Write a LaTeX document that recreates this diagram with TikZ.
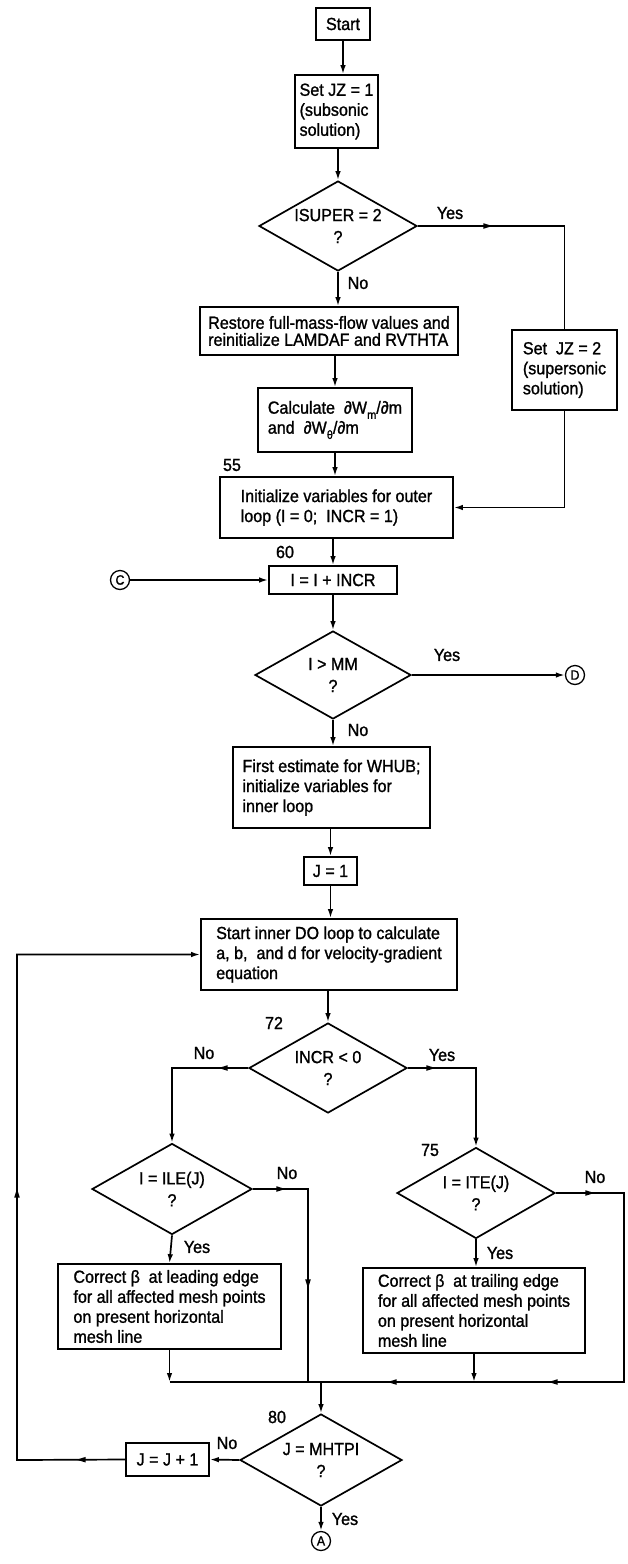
\documentclass[tikz,border=0pt]{standalone}
\usepackage{fontspec}
\setmainfont{Liberation Sans}[FakeStretch=0.92, FakeBold=1.2]
\usetikzlibrary{shapes.geometric,arrows.meta,decorations.markings}
\newcommand\ftxt{\fontsize{17.5}{20}\selectfont}
\newcommand\frest{\fontsize{17.5}{17}\selectfont}
\newcommand\fdia{\fontsize{17.5}{22}\selectfont}
\newcommand\fcirc{\fontsize{13.5}{13.5}\selectfont}
\newcommand\mysub[1]{\raisebox{-0.3em}{\fontsize{12}{12}\selectfont #1}}
\tikzset{
  box/.style={draw, line width=1.7pt, inner sep=2pt, align=left, font=\ftxt},
  dia/.style={draw, diamond, line width=1.7pt, inner sep=0pt, aspect=1.75, align=center, font=\fdia},
  con/.style={circle, draw, line width=1.3pt, minimum size=19pt, inner sep=0pt, font=\fcirc},
  lbl/.style={font=\ftxt, inner sep=0pt},
  conn/.style={line width=1.7pt},
  arr/.style={conn, -{Latex[length=9pt,width=5.5pt]}},
  midarr/.style={postaction={decorate, decoration={markings, mark=at position #1 with {\fill (-4.5pt,-2.8pt) -- (4.5pt,0pt) -- (-4.5pt,2.8pt) -- cycle;}}}}
}
\begin{document}
\begin{tikzpicture}[x=1pt,y=-1pt]
\fill[white] (0,0) rectangle (627,1564);
\useasboundingbox (0,0) rectangle (627,1564);

% nodes
\node[box, minimum width=54pt, minimum height=32pt] (start) at (343,24) {Start};
\node[box, minimum width=83pt, minimum height=73pt] (jz1) at (336.5,111.5) {Set JZ = 1\\(subsonic\\solution)};
\node[dia, minimum width=158pt, minimum height=90pt] (isuper) at (338,226) {ISUPER = 2\\?};
\node[box, minimum width=258pt, minimum height=48pt, font=\frest] (restore) at (329,331) {Restore full-mass-flow values and\\reinitialize LAMDAF and RVTHTA};
\node[box, minimum width=154pt, minimum height=64pt] (calc) at (335,420) {Calculate \ ∂W\mysub{m}/∂m\\and \ ∂W\mysub{θ}/∂m};
\node[box, minimum width=105pt, minimum height=80pt] (jz2) at (564.5,370) {Set \ JZ = 2\\(supersonic\\solution)};
\node[box, minimum width=233pt, minimum height=61pt] (init) at (336.5,507.5) {Initialize variables for outer\\loop (I = 0; \ INCR = 1)};
\node[box, minimum width=128pt, minimum height=28pt] (incr) at (333,580) {I = I + INCR};
\node[con] (C) at (120,580) {C};
\node[dia, minimum width=156pt, minimum height=88pt] (immd) at (333,675) {I > MM\\?};
\node[con] (D) at (575,675) {D};
\node[box, minimum width=197pt, minimum height=81pt] (first) at (331.5,787.5) {First estimate for WHUB;\\initialize variables for\\inner loop};
\node[box, minimum width=53pt, minimum height=28pt] (j1) at (330.5,871) {J = 1};
\node[box, minimum width=256pt, minimum height=71pt] (inner) at (329,954.5) {Start inner DO loop to calculate\\a, b, \ and d for velocity-gradient\\equation};
\node[dia, minimum width=158pt, minimum height=90pt] (incrd) at (328,1068) {INCR < 0\\?};
\node[dia, minimum width=160pt, minimum height=91pt] (ile) at (172,1189) {I = ILE(J)\\?};
\node[dia, minimum width=158pt, minimum height=91pt] (ite) at (476,1193) {I = ITE(J)\\?};
\node[box, minimum width=223pt, minimum height=85pt] (lead) at (169.5,1306.5) {Correct β\enspace at leading edge\\for all affected mesh points\\on present horizontal\\mesh line};
\node[box, minimum width=222pt, minimum height=85pt] (trail) at (474,1310.5) {Correct β\enspace at trailing edge\\for all affected mesh points\\on present horizontal\\mesh line};
\node[dia, minimum width=162pt, minimum height=92pt] (mht) at (321,1460) {J = MHTPI\\?};
\node[box, minimum width=83pt, minimum height=33pt] (jj1) at (167.5,1459.5) {J = J + 1};
\node[con] (A) at (321,1541) {A};

% labels
\node[lbl] (y1) at (450,213) {Yes};
\node[lbl] (n1) at (358,283) {No};
\node[lbl] (s55) at (232,465) {55};
\node[lbl] (s60) at (285,552) {60};
\node[lbl] (y2) at (447,655) {Yes};
\node[lbl] (n2) at (358,730) {No};
\node[lbl] (s72) at (274,1023) {72};
\node[lbl] (n3) at (204,1053) {No};
\node[lbl] (y3) at (442,1055) {Yes};
\node[lbl] (s75) at (430,1150) {75};
\node[lbl] (n4) at (287,1173) {No};
\node[lbl] (y4) at (197,1247) {Yes};
\node[lbl] (n5) at (595,1177) {No};
\node[lbl] (y5) at (500,1253) {Yes};
\node[lbl] (s80) at (277,1417) {80};
\node[lbl] (n6) at (227,1443) {No};
\node[lbl] (y6) at (345,1519) {Yes};

% coordinates
\coordinate (ilec) at (308,1189);
\coordinate (itec) at (624,1193);
\coordinate (mrg) at (321,1382);
\coordinate (lb) at (17,1460);

% connectors
\draw[arr] (start.south) -- (start.south |- jz1.north);
\draw[arr] (isuper.north |- jz1.south) -- (isuper.north);
\draw[conn, midarr=70pt] (isuper.east) -| (jz2.north);
\draw[arr] (isuper.south) -- (isuper.south |- restore.north);
\draw[arr] (calc.north |- restore.south) -- (calc.north);
\draw[arr] (calc.south) -- (calc.south |- init.north);
\draw[arr] (jz2.south) |- (init.east);
\draw[arr] (incr.north |- init.south) -- (incr.north);
\draw[arr] (C.east) -- (incr.west);
\draw[arr] (incr.south) -- (immd.north);
\draw[arr] (immd.east) -- (D.west);
\draw[arr] (immd.south) -- (immd.south |- first.north);
\draw[arr] (j1.north |- first.south) -- (j1.north);
\draw[arr] (j1.south) -- (j1.south |- inner.north);
\draw[arr] (incrd.north |- inner.south) -- (incrd.north);
\draw[arr, midarr=25pt] (incrd.west) -| (ile.north);
\draw[arr, midarr=23pt] (incrd.east) -| (ite.north);
\draw[arr] (ile.south) -- (lead.north);
\draw[arr] (ite.south) -- (ite.south |- trail.north);
\draw[conn, midarr=28pt, midarr=150pt] (ile.east) -- (ilec) -- (ilec |- mrg);
\draw[conn, midarr=34pt, midarr=328pt, midarr=489pt] (ite.east) -- (itec) -- (itec |- mrg) -- (mrg);
\draw[arr] (lead.south) -- (lead.south |- mrg);
\draw[conn] (lead.south |- mrg) -- (mrg);
\draw[arr] (trail.south) -- (trail.south |- mrg);
\draw[arr] (mrg) -- (mht.north);
\draw[arr] (mht.west) -- (jj1.east);
\draw[arr, midarr=44pt, midarr=375pt] (jj1.west) -- (lb) -- (lb |- inner.west) -- (inner.west);
\draw[arr] (mht.south) -- (A.north);
\end{tikzpicture}
\end{document}
